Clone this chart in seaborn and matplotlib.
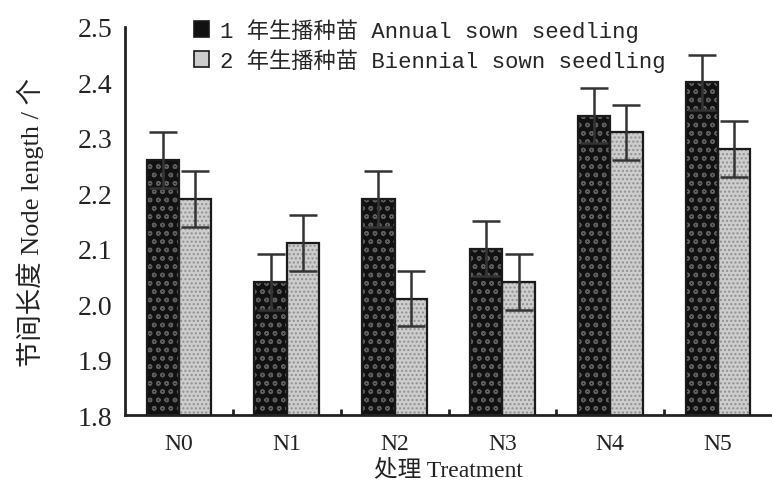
import numpy as np
import pandas as pd
import matplotlib
matplotlib.use("Agg")
import matplotlib.pyplot as plt
from matplotlib.patches import Rectangle
import seaborn as sns

# Internode length by nitrogen treatment
treatments = ["N0", "N1", "N2", "N3", "N4", "N5"]
annual = [2.26, 2.04, 2.19, 2.10, 2.34, 2.40]
annual_err = [0.05, 0.05, 0.05, 0.05, 0.05, 0.05]
biennial = [2.19, 2.11, 2.01, 2.04, 2.31, 2.28]
biennial_err = [0.05, 0.05, 0.05, 0.05, 0.05, 0.05]
series_names = ["1 年生播种苗 Annual sown seedling", "2 年生播种苗 Biennial sown seedling"]
y_ticks = [1.8, 1.9, 2.0, 2.1, 2.2, 2.3, 2.4, 2.5]

sns.set_style("white")
plt.rcParams["font.family"] = ["Liberation Serif", "Noto Sans CJK SC"]
plt.rcParams["hatch.linewidth"] = 1.0

df = pd.DataFrame({
    "treatment": treatments * 2,
    "series": [series_names[0]] * len(treatments) + [series_names[1]] * len(treatments),
    "value": annual + biennial,
    "err": annual_err + biennial_err,
})

fig = plt.figure(figsize=(7.72, 4.89), dpi=100)
ax = fig.add_axes([0.162, 0.149, 0.838, 0.794])

sns.barplot(data=df, x="treatment", y="value", hue="series", order=treatments,
            hue_order=series_names, palette=["#141414", "#c4c4c4"],
            width=0.6, errorbar=None, ax=ax, legend=True, zorder=2)

fills = {series_names[0]: ("#111111", "#5e5e5e", "oo"),
         series_names[1]: ("#cdcdcd", "#8f8f8f", "....")}
errs = {series_names[0]: annual_err, series_names[1]: biennial_err}

for container, name in zip(ax.containers, series_names):
    face, hatch_col, hatch = fills[name]
    for i, bar in enumerate(container):
        bar.set_facecolor(face)
        bar.set_edgecolor(hatch_col)
        bar.set_hatch(hatch)
        bar.set_linewidth(0)
        # outline drawn on top so the hatch keeps its own colour
        ax.add_patch(Rectangle(bar.get_xy(), bar.get_width(), bar.get_height(),
                               fill=False, edgecolor="#1a1a1a", lw=1.6, zorder=3))
        cx = bar.get_x() + bar.get_width() / 2
        top = bar.get_y() + bar.get_height()
        ax.errorbar(cx, top, yerr=errs[name][i], fmt="none", ecolor="#333333",
                    elinewidth=1.8, capsize=10, capthick=1.8, zorder=4)

ax.set_ylim(1.8, 2.5)
ax.set_xlim(-0.5, 5.5)
ax.set_yticks(y_ticks)
ax.set_yticklabels([f"{t:.1f}" for t in y_ticks])
ax.set_xticks(range(len(treatments)))
ax.set_xticklabels(treatments)
ax.set_xticks(np.arange(0.5, len(treatments) - 0.5, 1.0), minor=True)

for s in ["top", "right"]:
    ax.spines[s].set_visible(False)
for s in ["left", "bottom"]:
    ax.spines[s].set_color("#222222")
    ax.spines[s].set_linewidth(2.0)

ax.tick_params(axis="y", which="major", direction="in", length=5, width=2,
               labelsize=20, pad=9, colors="#222222")
ax.tick_params(axis="x", which="major", length=0, labelsize=17, pad=13, colors="#222222")
ax.tick_params(axis="x", which="minor", direction="in", length=4, width=2,
               colors="#222222", bottom=True)

ax.set_xlabel("处理 Treatment", fontsize=17, labelpad=3, color="#222222",
              family=["Liberation Serif", "Noto Sans CJK SC"])
ax.set_ylabel("节间长度 Node length / 个", fontsize=19, labelpad=24, color="#222222",
              family=["Liberation Serif", "Noto Sans CJK SC"])

handles, labels = ax.get_legend_handles_labels()
for h, name in zip(handles, series_names):
    face, hatch_col, hatch = fills[name]
    h.set_facecolor(face)
    h.set_edgecolor("#1a1a1a")
    h.set_linewidth(1.2)
leg = ax.legend(handles, labels, loc="upper left", bbox_to_anchor=(0.075, 1.075),
                frameon=False, handlelength=0.7, handleheight=0.7,
                handletextpad=0.5, labelspacing=0.3,
                prop={"family": ["Liberation Mono", "Noto Sans CJK SC"], "size": 16})

fig.savefig("out.png", dpi=100, facecolor="white")
